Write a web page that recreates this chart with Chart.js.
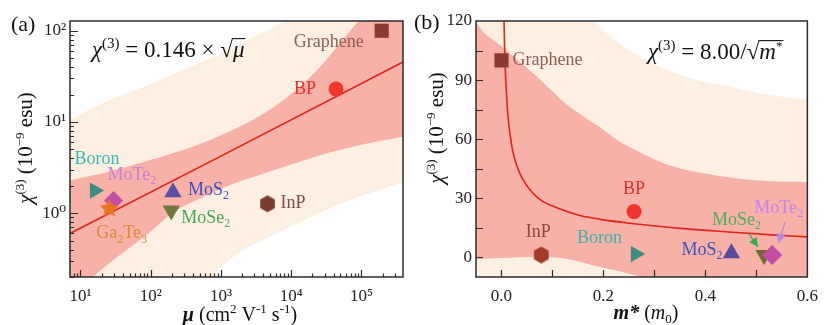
<!DOCTYPE html>
<html><head><meta charset="utf-8">
<script src="https://cdn.jsdelivr.net/npm/chart.js@4.4.0/dist/chart.umd.min.js"></script>
<style>
html,body{margin:0;padding:0;background:#fff;width:827px;height:325px;overflow:hidden}
#a{position:absolute;left:0;top:0}
#b{position:absolute;left:413px;top:0}
#fontprobe{position:absolute;left:-9999px;top:0;font-family:"Liberation Serif";font-size:17px}
</style></head><body>
<div id="fontprobe">Graphene 0.146 <i>χ μ m</i> <b><i>μ m*</i></b> 10¹²³⁴⁵⁰ − √ ×</div>
<canvas id="a" width="413" height="325"></canvas>
<canvas id="b" width="414" height="325"></canvas>
<script>
// ================= DATA: panel (a) =================
const matA = ['Graphene','BP','Boron','MoTe2','Ga2Te3','MoS2','MoSe2','InP'];
const muA  = [194000, 43400, 15.9, 29.6, 25.8, 207, 196, 4600];
const chiA = [100, 23, 1.77, 1.38, 1.12, 1.70, 1.07, 1.27];
const fitMuA  = [7.1, 1000, 390000];
const fitChiA = [0.6, 4.23, 45.4];
const outerUpMuA  = [7.1, 18.7, 48.9, 128, 335, 877, 2290, 8280, 30000, 400000];
const outerUpChiA = [10.4, 15.5, 21, 28.4, 39.4, 53.4, 78, 129, 250, 1500];
const innerUpMuA  = [7.1, 25.8, 92.9, 335, 1419, 6010, 21700, 91600, 400000];
const innerUpChiA = [2.28, 2.86, 3.78, 5.12, 8.06, 15.1, 34.8, 129, 400];
const innerLoMuA  = [7.1, 9.84, 14.9, 35.5, 92.9, 207, 542, 1419, 4080, 12200, 35100, 101000, 400000];
const innerLoChiA = [0.05, 0.142, 0.198, 0.344, 0.6, 1.02, 1.49, 2.06, 2.72, 3.59, 4.62, 5.65, 6.92];
const outerLoMuA  = [7.1, 461, 700, 1660, 4350, 11400, 29800, 78100, 204000, 400000];
const outerLoChiA = [0.02, 0.142, 0.198, 0.353, 0.528, 0.752, 1.07, 1.45, 1.86, 2.2];
const xTicksA = [10, 100, 1000, 10000, 100000];
const xTickLabelsA = ['10¹','10²','10³','10⁴','10⁵'];
const yTicksA = [1, 10, 100];
const yTickLabelsA = ['10⁰','10¹','10²'];

// ================= DATA: panel (b) =================
const matB  = ['Graphene','BP','InP','Boron','MoS2','MoSe2','MoTe2'];
const massB = [0.0, 0.26, 0.078, 0.263, 0.451, 0.515, 0.531];
const chiB  = [100, 23.2, 1.2, 1.7, 2.0, 1.2, 1.2];
const fitMassB = [0.0046, 0.005, 0.006, 0.008, 0.01, 0.013, 0.017, 0.022, 0.03, 0.04, 0.06, 0.08, 0.11, 0.15, 0.2, 0.27, 0.35, 0.45, 0.53, 0.6];
const fitChiB  = [126, 120, 107, 92, 82, 71, 62, 54, 46.5, 40.5, 33, 28.5, 25, 21.5, 19, 16.8, 14.7, 12.8, 11.4, 10.4];
const outerUpMassB = [-0.05, 0.12, 0.18, 0.206, 0.27, 0.333, 0.397, 0.46, 0.525, 0.6];
const outerUpChiB  = [180, 135, 120.6, 113.9, 102, 94.4, 89.3, 85.9, 82.5, 80];
const innerUpMassB = [-0.06, -0.0503, 0.0013, 0.0664, 0.129, 0.193, 0.23, 0.27, 0.326, 0.391, 0.454, 0.518, 0.6];
const innerUpChiB  = [126, 119.6, 106.9, 92.4, 77.4, 66, 59, 53.5, 47, 42.9, 40.3, 38.8, 38.3];
const innerLoMassB = [-0.05, 0.0013, 0.066, 0.129, 0.193, 0.273, 0.378, 0.6];
const innerLoChiB  = [-1, -0.4, 0.3, -0.8, -4.9, -10, -21, -40];
const xTicksB = [0, 0.2, 0.4, 0.6];
const xTickLabelsB = ['0.0','0.2','0.4','0.6'];
const yTicksB = [0, 30, 60, 90, 120];
const yTickLabelsB = ['0','30','60','90','120'];

// ================= STYLES =================
const SERIF = '"Liberation Serif","DejaVu Serif",serif';
const BEIGE = '#FDF0E2', SALMON = '#F8B1A7', FITRED = '#E3231C', INK = '#222';

const shapeA = ['rect','circle','triangle','rectRot','star','triangle','triangle','hex'];
const rotA   = [0,0,90,0,0,0,180,0];
const sizeA  = [10,7.5,9.5,9.5,10,10,10,8.5];
const colA   = ['#8B3A2F','#F2362B','#3E8C84','#C54DA6','#E8761E','#5B4FA3','#6E7A3C','#7B3E2E'];
const orderA = [5,5,5,4,3,5,5,5];
const labColA = ['#8E5E52','#E8322A','#37BDB5','#C47FD8','#DA8838','#3D4FC4','#46A558','#7C4E43'];
const labOffA = [[-53,11,'center'],[-31,0,'center'],[-20,-31,'left'],[-6,-25,'left'],[-13,25,'left'],[15,-2,'left'],[10,8,'left'],[13,0,'left']];

const shapeB = ['rect','circle','hex','triangle','triangle','triangle','rectRot'];
const rotB   = [0,0,0,90,0,180,0];
const sizeB  = [10,7.5,8.5,9.5,10,10,10];
const colB   = ['#8B3A2F','#F2362B','#A63A28','#3E8C84','#5A4BA0','#6E6A3A','#C54DA6'];
const orderB = [5,5,5,5,5,4,3];
const labColB = ['#8E5E52','#E0302A','#8E4A3E','#3AB3AA','#3D4FC4','#4CAF58','#C383EA'];
const labOffB = [[11,0,'left'],[0,-22,'center'],[-3,-23,'center'],[-36,-16,'center'],[-9,-3,'right'],[-52,-35,'left'],[-18,-47,'left']];

// ================= HELPERS =================
function polyImage(r, color, n, inner){
  const s = Math.ceil(2*r+2), c = document.createElement('canvas'); c.width = c.height = s;
  const g = c.getContext('2d'); g.fillStyle = color; g.beginPath();
  const m = inner ? 2*n : n;
  for (let k=0;k<m;k++){
    const a = -Math.PI/2 + k*2*Math.PI/m;
    const rr = inner && (k%2) ? r*inner : r;
    const X = s/2 + rr*Math.cos(a), Y = s/2 + rr*Math.sin(a);
    if (k) g.lineTo(X,Y); else g.moveTo(X,Y);
  }
  g.closePath(); g.fill(); return c;
}
function styleFor(shape, r, color){
  if (shape === 'hex') return polyImage(r, color, 6, 0);
  if (shape === 'star') return polyImage(r, color, 5, 0.48);
  return shape;
}
function lineDS(xs, ys, o){
  return Object.assign({type:'line', data: xs.map((x,i)=>({x:x, y:ys[i]})), pointRadius:0,
    borderWidth:0, borderColor:'rgba(0,0,0,0)', showLine:true, cubicInterpolationMode:'monotone'}, o);
}
function pointDS(x, y, shape, rot, r, color, order){
  return {type:'scatter', data:[{x:x, y:y}], pointStyle: styleFor(shape, r, color), pointRotation: rot,
    pointRadius: r, pointBackgroundColor: color, pointBorderColor: color, pointBorderWidth: 0, order: order, showLine:false};
}
function drawSegs(ctx, x, y, segs, align){
  let w = 0;
  for (const s of segs){ ctx.font = s.f; s.w = ctx.measureText(s.t).width; w += s.w; }
  let cx = align === 'center' ? x - w/2 : (align === 'right' ? x - w : x);
  ctx.textAlign = 'left';
  for (const s of segs){
    ctx.font = s.f; ctx.fillStyle = s.c || '#111';
    ctx.fillText(s.t, cx, y + (s.dy || 0));
    s.x0 = cx; cx += s.w;
  }
  const sq = segs.find(s => s.sqrt);
  if (sq){
    ctx.font = sq.f;
    const asc = ctx.measureText('√').actualBoundingBoxAscent;
    const rads = segs.filter(s => s.rad);
    const x1 = rads[rads.length-1].x0 + rads[rads.length-1].w + 1;
    ctx.strokeStyle = '#111'; ctx.lineWidth = 1.1;
    ctx.beginPath(); ctx.moveTo(sq.x0 + sq.w - 1, y - asc + 0.6); ctx.lineTo(x1, y - asc + 0.6); ctx.stroke();
  }
}
function drawChem(ctx, txt, x, y, align, color, size){
  const segs = [];
  for (const ch of txt){
    const sub = /[0-9]/.test(ch);
    if (segs.length && segs[segs.length-1].sub === sub) segs[segs.length-1].t += ch;
    else segs.push({t:ch, sub:sub});
  }
  const fm = size + 'px ' + SERIF, fs = Math.round(size*0.66) + 'px ' + SERIF;
  ctx.textBaseline = 'middle';
  drawSegs(ctx, x, y, segs.map(s => ({t:s.t, f: s.sub ? fs : fm, dy: s.sub ? size*0.32 : 0, c: color})), align);
}
function drawTicksFrame(chart, xs, ys){
  const {ctx, chartArea:a, scales} = chart;
  ctx.save(); ctx.strokeStyle = '#2b2b2b'; ctx.lineWidth = 1.2; ctx.beginPath();
  for (const t of xs){ const p = Math.round(scales.x.getPixelForValue(t[0])) + 0.5; ctx.moveTo(p, a.bottom); ctx.lineTo(p, a.bottom - t[1]); }
  for (const t of ys){ const p = Math.round(scales.y.getPixelForValue(t[0])) + 0.5; ctx.moveTo(a.left, p); ctx.lineTo(a.left + t[1], p); }
  ctx.stroke();
  ctx.lineWidth = 1.5; ctx.strokeRect(a.left, a.top, a.right - a.left, a.bottom - a.top);
  ctx.restore();
}
function arrow(ctx, x0, y0, x1, y1, color){
  ctx.save(); ctx.strokeStyle = color; ctx.fillStyle = color; ctx.lineWidth = 1.2;
  ctx.beginPath(); ctx.moveTo(x0,y0); ctx.lineTo(x1,y1); ctx.stroke();
  const a = Math.atan2(y1-y0, x1-x0), L = 9, W = 4.5;
  ctx.beginPath(); ctx.moveTo(x1,y1);
  ctx.lineTo(x1 - L*Math.cos(a) + W*Math.sin(a), y1 - L*Math.sin(a) - W*Math.cos(a));
  ctx.lineTo(x1 - L*Math.cos(a) - W*Math.sin(a), y1 - L*Math.sin(a) + W*Math.cos(a));
  ctx.closePath(); ctx.fill(); ctx.restore();
}

function build(){
// ================= PANEL (a) =================
const minorXA = [], minorYA = [];
for (let d = 0; d <= 5; d++) for (let k = 2; k <= 9; k++){ const v = k*Math.pow(10,d); if (v >= 7.1 && v <= 390000) minorXA.push(v); }
for (let d = -1; d <= 2; d++) for (let k = 2; k <= 9; k++){ const v = k*Math.pow(10,d); if (v >= 0.2 && v <= 128) minorYA.push(v); }

const dsA = [
  lineDS(outerUpMuA, outerUpChiA, {fill:'start', backgroundColor: BEIGE, order: 20}),
  lineDS(innerUpMuA, innerUpChiA, {fill:'start', backgroundColor: SALMON, order: 19}),
  lineDS(innerLoMuA, innerLoChiA, {fill:'start', backgroundColor: BEIGE, order: 18}),
  lineDS(outerLoMuA, outerLoChiA, {fill:'start', backgroundColor: '#ffffff', order: 17}),
  lineDS(fitMuA, fitChiA, {fill:false, borderColor: FITRED, borderWidth: 1.6, cubicInterpolationMode:'default', tension:0, order: 10})
];
matA.forEach((m,i) => dsA.push(pointDS(muA[i], chiA[i], shapeA[i], rotA[i], sizeA[i], colA[i], orderA[i])));

const decorA = {
  id: 'decorA',
  afterDraw(chart){
    const ctx = chart.ctx, sx = chart.scales.x, sy = chart.scales.y;
    drawTicksFrame(chart,
      xTicksA.map(v => [v,7]).concat(minorXA.map(v => [v,3.5])),
      yTicksA.map(v => [v,8]).concat(minorYA.map(v => [v,4])));
    ctx.save();
    matA.forEach((m,i) => {
      const o = labOffA[i];
      drawChem(ctx, m, sx.getPixelForValue(muA[i]) + o[0], sy.getPixelForValue(chiA[i]) + o[1], o[2], labColA[i], 18);
    });
    ctx.textBaseline = 'alphabetic';
    drawSegs(ctx, 92, 57, [
      {t:'χ', f:'italic 23px ' + SERIF},
      {t:'(3)', f:'15px ' + SERIF, dy:-9},
      {t:' = 0.146 × ', f:'23px ' + SERIF},
      {t:'√', f:'23px ' + SERIF, sqrt:1},
      {t:'μ', f:'italic 23px ' + SERIF, rad:1}
    ], 'left');
    drawSegs(ctx, 11, 31, [{t:'(a)', f:'22px ' + SERIF, c:'#111'}], 'left');
    drawSegs(ctx, 240, 321, [
      {t:'μ', f:'italic bold 20px ' + SERIF},
      {t:' (cm', f:'20px ' + SERIF},
      {t:'2', f:'13px ' + SERIF, dy:-8},
      {t:' V', f:'20px ' + SERIF},
      {t:'-1', f:'13px ' + SERIF, dy:-8},
      {t:' s', f:'20px ' + SERIF},
      {t:'-1', f:'13px ' + SERIF, dy:-8},
      {t:')', f:'20px ' + SERIF}
    ], 'center');
    ctx.translate(32, 148); ctx.rotate(-Math.PI/2);
    drawSegs(ctx, 0, 0, [
      {t:'χ', f:'italic 21px ' + SERIF},
      {t:'(3)', f:'13px ' + SERIF, dy:-8},
      {t:' (10', f:'21px ' + SERIF},
      {t:'−9', f:'13px ' + SERIF, dy:-8},
      {t:' esu)', f:'21px ' + SERIF}
    ], 'center');
    ctx.restore();
  }
};

new Chart(document.getElementById('a'), {
  type: 'scatter',
  data: { datasets: dsA },
  options: {
    responsive: false, animation: false, events: [],
    layout: { padding: { top: 21, right: 3, left: 0, bottom: 0 } },
    plugins: { legend: { display: false }, tooltip: { enabled: false } },
    scales: {
      x: { type: 'logarithmic', min: 7.1, max: 390000, position: 'bottom',
        grid: { display: false, drawTicks: false }, border: { display: false },
        afterBuildTicks: s => { s.ticks = xTicksA.map(v => ({value: v})); },
        afterFit: s => { s.height = 48; },
        ticks: { autoSkip: false, maxRotation: 0, padding: 9, color: INK, font: { family: SERIF, size: 17 },
          callback: v => { const i = xTicksA.indexOf(v); return i >= 0 ? xTickLabelsA[i] : ''; } } },
      y: { type: 'logarithmic', min: 0.2, max: 128, position: 'left',
        grid: { display: false, drawTicks: false }, border: { display: false },
        afterBuildTicks: s => { s.ticks = yTicksA.map(v => ({value: v})); },
        afterFit: s => { s.width = 70; },
        ticks: { autoSkip: false, padding: 4, color: INK, font: { family: SERIF, size: 17 },
          callback: v => { const i = yTicksA.indexOf(v); return i >= 0 ? yTickLabelsA[i] : ''; } } }
    }
  },
  plugins: [decorA]
});

// ================= PANEL (b) =================
const minorXB = [0.1, 0.3, 0.5];
const minorYB = [15, 45, 75, 105];

const dsB = [
  lineDS(outerUpMassB, outerUpChiB, {fill:'start', backgroundColor: BEIGE, order: 20}),
  lineDS(innerUpMassB, innerUpChiB, {fill:'start', backgroundColor: SALMON, order: 19}),
  lineDS(innerLoMassB, innerLoChiB, {fill:'start', backgroundColor: BEIGE, order: 18}),
  lineDS(fitMassB, fitChiB, {fill:false, borderColor: FITRED, borderWidth: 1.6, order: 10})
];
matB.forEach((m,i) => dsB.push(pointDS(massB[i], chiB[i], shapeB[i], rotB[i], sizeB[i], colB[i], orderB[i])));

const decorB = {
  id: 'decorB',
  afterDraw(chart){
    const ctx = chart.ctx, sx = chart.scales.x, sy = chart.scales.y;
    drawTicksFrame(chart,
      xTicksB.concat(minorXB).filter(v => v < 0.6).map(v => [v,7]),
      yTicksB.concat(minorYB).filter(v => v < 120).map(v => [v,7]));
    ctx.save();
    const iSe = matB.indexOf('MoSe2'), iTe = matB.indexOf('MoTe2');
    const pSe = [sx.getPixelForValue(massB[iSe]), sy.getPixelForValue(chiB[iSe])];
    const pTe = [sx.getPixelForValue(massB[iTe]), sy.getPixelForValue(chiB[iTe])];
    arrow(ctx, pSe[0]-15, pSe[1]-21, pSe[0]-6, pSe[1]-8, '#3DAA4E');
    arrow(ctx, pTe[0]+13, pTe[1]-33, pTe[0]+6, pTe[1]-12, '#B486E6');
    matB.forEach((m,i) => {
      const o = labOffB[i];
      drawChem(ctx, m, sx.getPixelForValue(massB[i]) + o[0], sy.getPixelForValue(chiB[i]) + o[1], o[2], labColB[i], 18);
    });
    ctx.textBaseline = 'alphabetic';
    drawSegs(ctx, 235, 59, [
      {t:'χ', f:'italic 23px ' + SERIF},
      {t:'(3)', f:'15px ' + SERIF, dy:-9},
      {t:' = 8.00/', f:'23px ' + SERIF},
      {t:'√', f:'23px ' + SERIF, sqrt:1},
      {t:'m', f:'italic 23px ' + SERIF, rad:1},
      {t:'*', f:'13px ' + SERIF, dy:-9, rad:1}
    ], 'left');
    drawSegs(ctx, 1, 29, [{t:'(b)', f:'22px ' + SERIF, c:'#111'}], 'left');
    drawSegs(ctx, 233, 319, [
      {t:'m*', f:'italic bold 20px ' + SERIF},
      {t:' (', f:'20px ' + SERIF},
      {t:'m', f:'italic 20px ' + SERIF},
      {t:'0', f:'13px ' + SERIF, dy:4},
      {t:')', f:'20px ' + SERIF}
    ], 'center');
    ctx.translate(30, 128); ctx.rotate(-Math.PI/2);
    drawSegs(ctx, 0, 0, [
      {t:'χ', f:'italic 21px ' + SERIF},
      {t:'(3)', f:'13px ' + SERIF, dy:-8},
      {t:' (10', f:'21px ' + SERIF},
      {t:'−9', f:'13px ' + SERIF, dy:-8},
      {t:' esu)', f:'21px ' + SERIF}
    ], 'center');
    ctx.restore();
  }
};

new Chart(document.getElementById('b'), {
  type: 'scatter',
  data: { datasets: dsB },
  options: {
    responsive: false, animation: false, events: [],
    layout: { padding: { top: 21, right: 11, left: 0, bottom: 0 } },
    plugins: { legend: { display: false }, tooltip: { enabled: false } },
    scales: {
      x: { type: 'linear', min: -0.05, max: 0.6, position: 'bottom',
        grid: { display: false, drawTicks: false }, border: { display: false },
        afterBuildTicks: s => { s.ticks = xTicksB.map(v => ({value: v})); },
        afterFit: s => { s.height = 48; },
        ticks: { autoSkip: false, maxRotation: 0, padding: 9, color: INK, font: { family: SERIF, size: 17 },
          callback: v => { const i = xTicksB.indexOf(v); return i >= 0 ? xTickLabelsB[i] : ''; } } },
      y: { type: 'linear', min: -10, max: 120, position: 'left',
        grid: { display: false, drawTicks: false }, border: { display: false },
        afterBuildTicks: s => { s.ticks = yTicksB.map(v => ({value: v})); },
        afterFit: s => { s.width = 63; },
        ticks: { autoSkip: false, padding: 4, color: INK, font: { family: SERIF, size: 17 },
          callback: v => { const i = yTicksB.indexOf(v); return i >= 0 ? yTickLabelsB[i] : ''; } } }
    }
  },
  plugins: [decorB]
});
}

const fontsWanted = ['17px "Liberation Serif"', 'italic 17px "Liberation Serif"', 'italic bold 17px "Liberation Serif"', '17px "DejaVu Serif"'];
if (document.fonts && document.fonts.load) {
  Promise.all(fontsWanted.map(f => document.fonts.load(f, 'Gaχμ10√'))).then(build, build);
} else { build(); }
</script></body></html>
